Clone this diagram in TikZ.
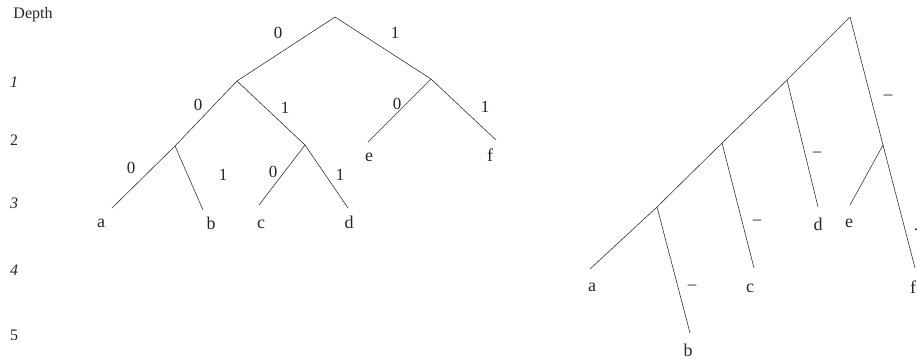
\documentclass[tikz,border=0pt]{standalone}
\usepackage{fontspec}
\setmainfont{Liberation Serif}
\begin{document}
\begin{tikzpicture}[x=1pt,y=-1pt,
  edge/.style={draw=black!80,line width=0.6pt},
  lbl/.style={inner sep=0pt,text=black!85,font=\fontsize{17}{20}\selectfont},
  leaf/.style={inner sep=0pt,text=black!85,font=\fontsize{18}{21}\selectfont},
  dep/.style={inner sep=0pt,text=black!85,font=\fontsize{16}{19}\selectfont}]
\useasboundingbox (0,0) rectangle (917,360);
% depth column
\node[dep] (depth) at (33,15) {Depth};
\node[dep] (d1) at (14,82) {\textit{1}};
\node[dep] (d2) at (14,140) {2};
\node[dep] (d3) at (14,203) {\textit{3}};
\node[dep] (d4) at (14,270) {\textit{4}};
\node[dep] (d5) at (14,335) {5};
% left tree
\coordinate (L0) at (335,17);
\coordinate (L1) at (237,81);
\coordinate (L2) at (431,79);
\coordinate (L3) at (175,146);
\coordinate (L4) at (305,145);
\coordinate (la) at (112,208);
\coordinate (lb) at (203,210);
\coordinate (lc) at (259,205);
\coordinate (ld) at (348,208);
\coordinate (le) at (368,142);
\coordinate (lf) at (496,140);
\draw[edge] (L0) -- (L1);
\draw[edge] (L0) -- (L2);
\draw[edge] (L1) -- (L3);
\draw[edge] (L1) -- (L4);
\draw[edge] (L2) -- (le);
\draw[edge] (L2) -- (lf);
\draw[edge] (L3) -- (la);
\draw[edge] (L3) -- (lb);
\draw[edge] (L4) -- (lc);
\draw[edge] (L4) -- (ld);
\node[leaf] (ta) at (101,223) {a};
\node[leaf] (tb) at (211,223) {b};
\node[leaf] (tc) at (261,224) {c};
\node[leaf] (td) at (349,222) {d};
\node[leaf] (te) at (369,157) {e};
\node[leaf] (tf) at (490,155) {f};
\node[lbl] (e1) at (278,33) {0};
\node[lbl] (e2) at (395,33) {1};
\node[lbl] (e3) at (198,105) {0};
\node[lbl] (e4) at (285,108) {1};
\node[lbl] (e5) at (397,104) {0};
\node[lbl] (e6) at (485,107) {1};
\node[lbl] (e7) at (131,168) {0};
\node[lbl] (e8) at (223,175) {1};
\node[lbl] (e9) at (273,172) {0};
\node[lbl] (e10) at (340,175) {1};
% right tree
\coordinate (R0) at (850,17);
\coordinate (R1) at (787,80);
\coordinate (R2) at (722,143);
\coordinate (R3) at (657,207);
\coordinate (R4) at (883,145);
\coordinate (ra) at (590,269);
\coordinate (rb) at (690,333);
\coordinate (rc) at (754,268);
\coordinate (rd) at (818,207);
\coordinate (re) at (850,205);
\coordinate (rf) at (915,268);
\draw[edge] (R0) -- (R1);
\draw[edge] (R1) -- (R2);
\draw[edge] (R2) -- (R3);
\draw[edge] (R3) -- (ra);
\draw[edge] (R3) -- (rb);
\draw[edge] (R2) -- (rc);
\draw[edge] (R1) -- (rd);
\draw[edge] (R0) -- (R4);
\draw[edge] (R4) -- (re);
\draw[edge] (R4) -- (rf);
\node[leaf] (sa) at (592,287) {a};
\node[leaf] (sb) at (688,350) {b};
\node[leaf] (sc) at (750,288) {c};
\node[leaf] (sd) at (818,224) {d};
\node[leaf] (se) at (849,223) {e};
\node[leaf] (sf) at (913,287) {f};
\node[lbl] (m1) at (888,97) {–};
\node[lbl] (m2) at (817,154) {–};
\node[lbl] (m3) at (757,222) {–};
\node[lbl] (m4) at (692,287) {–};
\node[lbl] (m5) at (916,230) {.};
\end{tikzpicture}
\end{document}
